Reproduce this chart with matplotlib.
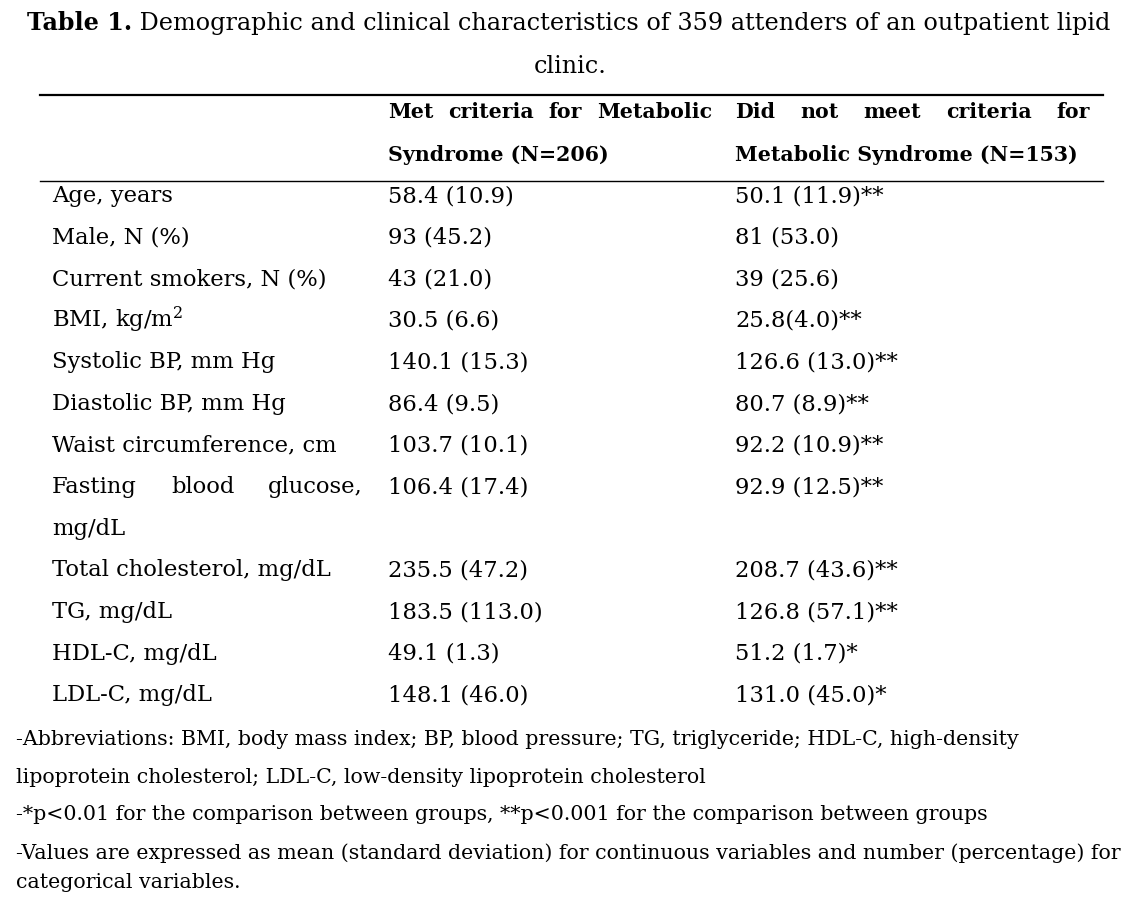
import matplotlib.pyplot as plt

plt.rcParams['font.family'] = 'DejaVu Serif'
plt.rcParams['mathtext.fontset'] = 'dejavuserif'

# table content
row_labels = ['Age, years', 'Male, N (%)', 'Current smokers, N (%)', 'BMI, kg/m$^2$',
              'Systolic BP, mm Hg', 'Diastolic BP, mm Hg', 'Waist circumference, cm',
              'Fasting blood glucose,\nmg/dL', 'Total cholesterol, mg/dL', 'TG, mg/dL',
              'HDL-C, mg/dL', 'LDL-C, mg/dL']
met_ms = ['58.4 (10.9)', '93 (45.2)', '43 (21.0)', '30.5 (6.6)', '140.1 (15.3)',
          '86.4 (9.5)', '103.7 (10.1)', '106.4 (17.4)', '235.5 (47.2)', '183.5 (113.0)',
          '49.1 (1.3)', '148.1 (46.0)']
no_ms = ['50.1 (11.9)**', '81 (53.0)', '39 (25.6)', '25.8(4.0)**', '126.6 (13.0)**',
         '80.7 (8.9)**', '92.2 (10.9)**', '92.9 (12.5)**', '208.7 (43.6)**', '126.8 (57.1)**',
         '51.2 (1.7)*', '131.0 (45.0)*']
footnotes = ['-Abbreviations: BMI, body mass index; BP, blood pressure; TG, triglyceride; HDL-C, high-density',
             'lipoprotein cholesterol; LDL-C, low-density lipoprotein cholesterol',
             '-*p<0.01 for the comparison between groups, **p<0.001 for the comparison between groups',
             '-Values are expressed as mean (standard deviation) for continuous variables and number (percentage) for',
             'categorical variables.']

W, H = 1137, 911
fig = plt.figure(figsize=(W / 100, H / 100), dpi=100)
ax = fig.add_axes([0, 0, 1, 1])
ax.set_xlim(0, W)
ax.set_ylim(H, 0)
ax.axis('off')
r = fig.canvas.get_renderer()

FS = 16.3      # body
FS_HEAD = 14.8  # bold header
FS_TITLE = 17.2
FS_NOTE = 14.8


def justify(words, x0, x1, y, **kw):
    # spread words so the line fills x0..x1
    texts = [ax.text(0, y, w, va='baseline', ha='left', **kw) for w in words]
    widths = [t.get_window_extent(r).width for t in texts]
    gap = (x1 - x0 - sum(widths)) / (len(words) - 1)
    x = x0
    for t, w in zip(texts, widths):
        t.set_x(x)
        x += w + gap


# title
t1 = ax.text(0, 30, 'Table 1.', fontsize=FS_TITLE, fontweight='bold', va='baseline')
w1 = t1.get_window_extent(r).width
t2 = ax.text(0, 30, ' Demographic and clinical characteristics of 359 attenders of an outpatient lipid',
             fontsize=FS_TITLE, va='baseline')
w2 = t2.get_window_extent(r).width
x0 = (W - w1 - w2) / 2
t1.set_x(x0)
t2.set_x(x0 + w1)
ax.text(570, 73, 'clinic.', fontsize=FS_TITLE, ha='center', va='baseline')

# rules
ax.plot([40, 1103], [95, 95], color='black', lw=1.6)
ax.plot([40, 1103], [181, 181], color='black', lw=1.0)

# header
hb = dict(fontsize=FS_HEAD, fontweight='bold')
justify('Met criteria for Metabolic'.split(), 388, 712, 118, **hb)
ax.text(388, 161, 'Syndrome (N=206)', va='baseline', **hb)
justify('Did not meet criteria for'.split(), 735, 1090, 118, **hb)
ax.text(735, 161, 'Metabolic Syndrome (N=153)', va='baseline', **hb)

# body
y = 202
step = 41.6
for lab, a, b in zip(row_labels, met_ms, no_ms):
    if '\n' in lab:
        first, second = lab.split('\n')
        justify(first.split(), 52, 363, y, fontsize=FS)
        ax.text(52, y + step, second, fontsize=FS, va='baseline')
    else:
        ax.text(52, y, lab, fontsize=FS, va='baseline')
    ax.text(388, y, a, fontsize=FS, va='baseline')
    ax.text(735, y, b, fontsize=FS, va='baseline')
    y += step * (2 if '\n' in lab else 1)

# footnotes
fy = [745, 783, 820, 859, 888]
for txt, yy in zip(footnotes, fy):
    ax.text(16, yy, txt, fontsize=FS_NOTE, va='baseline')

fig.savefig('out.png', dpi=100)
